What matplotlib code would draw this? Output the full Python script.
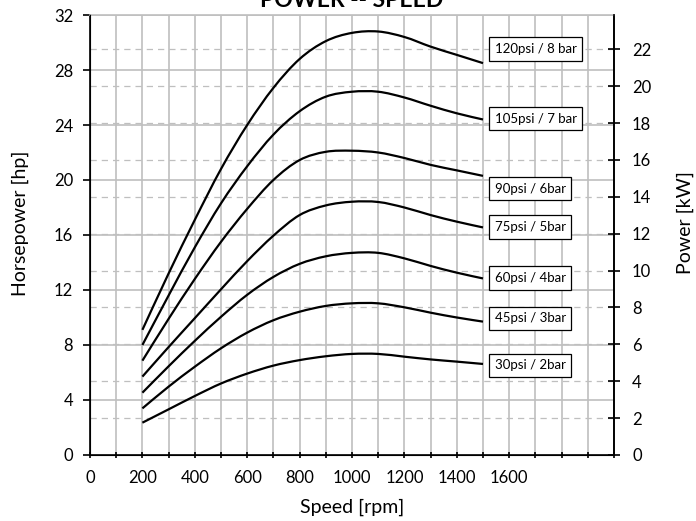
import numpy as np
import matplotlib
matplotlib.use("Agg")
import matplotlib.pyplot as plt
from matplotlib.path import Path
from matplotlib.patches import PathPatch

plt.rcParams['font.family'] = ['Lato', 'DejaVu Sans']

# speed [rpm]
speed = [200, 300, 400, 500, 600, 700, 800, 900, 1000, 1100, 1200, 1300, 1400, 1500]

# horsepower per inlet pressure
hp_120 = [9.1, 13.2, 17.1, 20.8, 24.0, 26.7, 28.8, 30.1, 30.7, 30.8, 30.4, 29.7, 29.1, 28.5]
hp_105 = [8.0, 11.6, 15.1, 18.3, 21.0, 23.3, 25.0, 26.06, 26.42, 26.42, 26.0, 25.4, 24.85, 24.4]
hp_90 = [6.86, 9.9, 12.8, 15.5, 17.9, 20.0, 21.45, 22.05, 22.13, 22.0, 21.6, 21.1, 20.7, 20.3]
hp_75 = [5.7, 7.85, 9.95, 12.05, 14.1, 15.95, 17.45, 18.15, 18.42, 18.4, 18.0, 17.45, 16.97, 16.55]
hp_60 = [4.53, 6.45, 8.3, 10.05, 11.65, 12.95, 13.9, 14.45, 14.7, 14.7, 14.3, 13.75, 13.26, 12.84]
hp_45 = [3.39, 4.97, 6.42, 7.76, 8.9, 9.8, 10.42, 10.84, 11.03, 11.03, 10.74, 10.35, 10.0, 9.7]
hp_30 = [2.35, 3.32, 4.29, 5.2, 5.92, 6.5, 6.9, 7.18, 7.35, 7.35, 7.15, 6.95, 6.79, 6.62]

series = [hp_120, hp_105, hp_90, hp_75, hp_60, hp_45, hp_30]
labels = ['120psi / 8 bar', '105psi / 7 bar', '90psi / 6bar', '75psi / 5bar',
          '60psi / 4bar', '45psi / 3bar', '30psi / 2bar']
label_hp = [29.53, 24.44, 19.35, 16.58, 12.87, 9.93, 6.51]
label_rpm = 1545

HP_TO_KW = 0.7457
kw_ticks = list(range(0, 23, 2))
hp_ticks = list(range(0, 33, 4))
rpm_ticks = list(range(0, 2001, 100))


def smooth_path(x, y):
    # spreadsheet-style smoothed line: cubic bezier segments through the points
    pts = np.column_stack([x, y]).astype(float)
    n = len(pts)
    verts = [pts[0]]
    codes = [Path.MOVETO]
    for i in range(n - 1):
        p0 = pts[max(i - 1, 0)]
        p1 = pts[i]
        p2 = pts[i + 1]
        p3 = pts[min(i + 2, n - 1)]
        c1 = p1 + (p2 - p0) / 6.0
        c2 = p2 - (p3 - p1) / 6.0
        verts += [c1, c2, p2]
        codes += [Path.CURVE4] * 3
    return Path(verts, codes)


fig = plt.figure(figsize=(6.96, 5.21), dpi=100)
ax = fig.add_axes([0.1293, 0.1267, 0.8822 - 0.1293, 0.9712 - 0.1267])

grid_col = '#bfbfbf'
for k in kw_ticks[1:]:
    ax.axhline(k / HP_TO_KW, color=grid_col, lw=0.9, ls=(0, (5, 4)), zorder=1)
for h in hp_ticks[1:]:
    ax.axhline(h, color=grid_col, lw=1.2, zorder=1)
for r in rpm_ticks[1:]:
    ax.axvline(r, color=grid_col, lw=1.2, zorder=1)

for s in series:
    ax.add_patch(PathPatch(smooth_path(speed, s), fill=False, ec='black',
                           lw=1.6, zorder=3, capstyle='butt'))

for lab, y in zip(labels, label_hp):
    ax.text(label_rpm, y, lab, fontsize=9.5, ha='left', va='center', zorder=4,
            bbox=dict(boxstyle='square,pad=0.42', fc='white', ec='black', lw=0.9))

ax.set_xlim(0, 2000)
ax.set_ylim(0, 32)
ax.set_xticks(rpm_ticks)
ax.set_xticklabels([str(r) if (r % 200 == 0 and r <= 1600) else '' for r in rpm_ticks])
ax.set_yticks(hp_ticks)
ax.tick_params(axis='x', direction='inout', length=5, width=1.2, labelsize=12, pad=8)
ax.tick_params(axis='y', direction='out', length=5, width=1.2, labelsize=12, pad=7)
ax.spines['top'].set_color(grid_col)
ax.spines['top'].set_linewidth(1.2)
for sp in ['left', 'bottom', 'right']:
    ax.spines[sp].set_linewidth(1.2)

ax2 = ax.twinx()
ax2.set_ylim(0, 32 * HP_TO_KW)
ax2.set_yticks(kw_ticks)
ax2.tick_params(axis='y', direction='inout', length=8, width=1.2, labelsize=12, pad=9)
ax2.spines['right'].set_linewidth(1.2)
ax2.spines['top'].set_visible(False)

fig.text(352 / 696, 1 - 507 / 521, 'Speed [rpm]', fontsize=14, ha='center', va='center')
fig.text(20 / 696, 1 - 223 / 521, 'Horsepower [hp]', fontsize=14, rotation=90,
         ha='center', va='center')
fig.text(685 / 696, 1 - 223 / 521, 'Power [kW]', fontsize=14, rotation=90,
         ha='center', va='center')

fig.text(352 / 696, 1 - 7 / 521, 'POWER -- SPEED', fontsize=16.5, fontweight='bold',
         ha='center', va='baseline')

fig.savefig('out.png', dpi=100)
